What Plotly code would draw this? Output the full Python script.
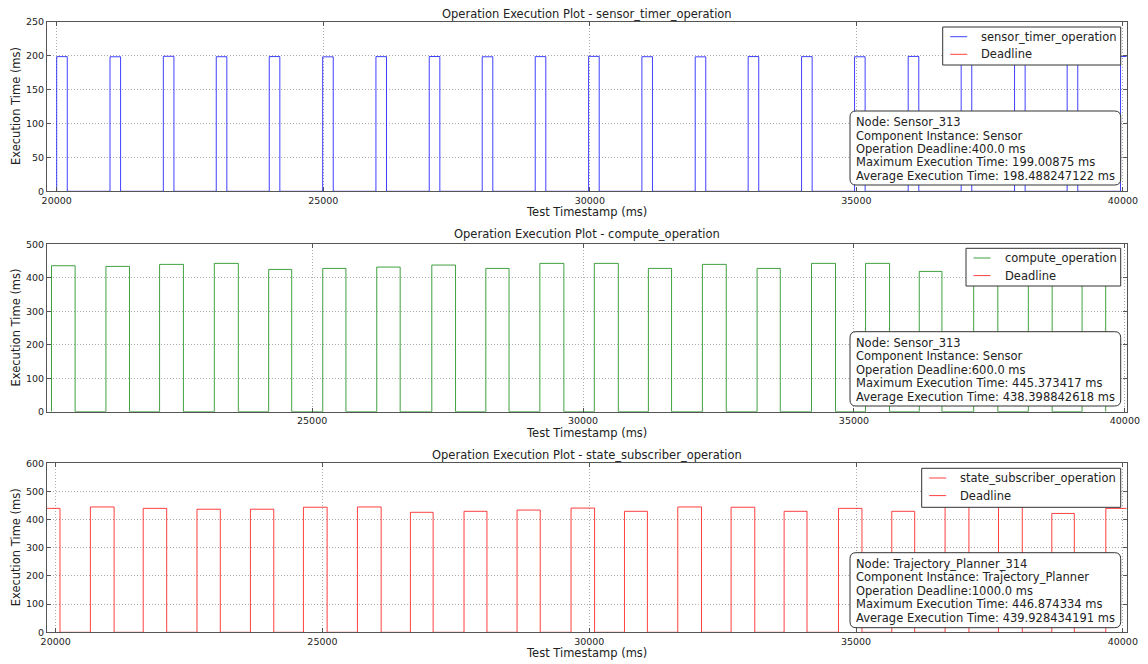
import plotly.graph_objects as go

# ---------------- data ----------------
sensor_timer_start = [20000, 21000, 22000, 22993, 23987, 24989, 25988, 26988, 27982, 28976,
                      29977, 30977, 31977, 32970, 33972, 34966, 35972, 36966, 37967, 38954, 39955]
sensor_timer_exec = [198.5, 198.3, 199.0, 198.4, 198.6, 198.2, 198.5, 198.7, 198.3, 198.5,
                     198.9, 198.4, 198.2, 198.6, 198.5, 198.3, 198.8, 198.4, 198.6, 198.5, 198.7]

compute_start = [20190, 21195, 22185, 23195, 24198, 25196, 26193, 27209, 28206, 29203,
                 30208, 31206, 32203, 33212, 34217, 35214, 36205, 37210, 38218, 39210]
compute_exec = [436, 434, 440, 443, 425, 428, 432, 438, 428, 443,
                443, 428, 440, 428, 443, 443, 419, 445.4, 440, 436]

state_sub_start = [19640, 20650, 21640, 22648, 23650, 24643, 25655, 26648, 27653, 28647,
                   29659, 30660, 31659, 32658, 33652, 34671, 35670, 36669, 37670, 38669, 39681]
state_sub_exec = [440, 445, 440, 437, 437, 444, 445, 426, 429.5, 434,
                  441, 429.5, 445, 444, 429.5, 440, 429.5, 446.9, 445.5, 422, 440]

operations = ["sensor_timer_operation", "compute_operation", "state_subscriber_operation"]
deadlines = [400.0, 600.0, 1000.0]
info_lines = [
    ["Node: Sensor_313", "Component Instance: Sensor", "Operation Deadline:400.0 ms",
     "Maximum Execution Time: 199.00875 ms", "Average Execution Time: 198.488247122 ms"],
    ["Node: Sensor_313", "Component Instance: Sensor", "Operation Deadline:600.0 ms",
     "Maximum Execution Time: 445.373417 ms", "Average Execution Time: 438.398842618 ms"],
    ["Node: Trajectory_Planner_314", "Component Instance: Trajectory_Planner",
     "Operation Deadline:1000.0 ms", "Maximum Execution Time: 446.874334 ms",
     "Average Execution Time: 439.928434191 ms"],
]
x_ranges = [[19818, 40067], [20107, 40030], [19837, 40069]]
y_ranges = [[0, 250], [0, 500], [0, 600]]
y_dticks = [50, 100, 100]

series = [(sensor_timer_start, sensor_timer_exec),
          (compute_start, compute_exec),
          (state_sub_start, state_sub_exec)]
line_colors = ["rgba(0,0,255,0.75)", "rgba(0,128,0,0.75)", "rgba(255,0,0,0.75)"]
deadline_color = "rgba(255,0,0,0.75)"

# ---------------- layout geometry (window pixels) ----------------
OFF = 8                      # page body margin
W, H = 1148 - OFF, 664 - OFF  # figure size so that it fills the window
def px(x):
    return (x - OFF) / W
def py(y):
    return 1 - (y - OFF) / H

plot_left, plot_right = 47, 1126.5
panel_tb = [(21.7, 191.3), (244.3, 411.7), (463.3, 632.3)]
title_y = [13.5, 234, 455]
xtitle_y = [212, 432.5, 653]
# legend boxes: left, top, right, bottom
legend_box = [(942.7, 27, 1120.7, 65), (966, 248.3, 1120.7, 286), (921.7, 468.3, 1120.7, 507.3)]
info_box = [(850, 111, 1120.7, 185), (850, 331.7, 1120.7, 406), (850, 552.7, 1120.7, 627.7)]

FONT = "DejaVu Sans"
TXT = 11.5
TICK = 9.5

fig = go.Figure()
layout = dict(
    width=W, height=H, margin=dict(l=0, r=0, t=0, b=0, autoexpand=False),
    paper_bgcolor="white", plot_bgcolor="white",
    font=dict(family=FONT, size=TXT, color="#222"),
    showlegend=False,
)
annotations = []
shapes = []

def rounded_rect(x0, y0, x1, y1, r):
    return (
        f"M {px(x0 + r)},{py(y0)} L {px(x1 - r)},{py(y0)} "
        f"Q {px(x1)},{py(y0)} {px(x1)},{py(y0 + r)} "
        f"L {px(x1)},{py(y1 - r)} Q {px(x1)},{py(y1)} {px(x1 - r)},{py(y1)} "
        f"L {px(x0 + r)},{py(y1)} Q {px(x0)},{py(y1)} {px(x0)},{py(y1 - r)} "
        f"L {px(x0)},{py(y0 + r)} Q {px(x0)},{py(y0)} {px(x0 + r)},{py(y0)} Z"
    )

for i in range(3):
    sfx = "" if i == 0 else str(i + 1)
    starts, execs = series[i]
    xs, ys = [starts[0]], [0]
    for t, v in zip(starts, execs):
        xs += [t, t + v]
        ys += [v, 0]
    fig.add_trace(go.Scatter(
        x=xs, y=ys, mode="lines", line=dict(color=line_colors[i], width=1, shape="hv"),
        name=operations[i], xaxis="x" + sfx, yaxis="y" + sfx, hoverinfo="skip"))
    fig.add_trace(go.Scatter(
        x=x_ranges[i], y=[deadlines[i], deadlines[i]], mode="lines",
        line=dict(color=deadline_color, width=1),
        name="Deadline", xaxis="x" + sfx, yaxis="y" + sfx, hoverinfo="skip"))

    top, bot = panel_tb[i]
    axis_common = dict(
        automargin=False,
        showline=True, linecolor="#555", linewidth=1, mirror="ticks",
        ticks="inside", ticklen=4, tickcolor="#555", tickwidth=1,
        showgrid=True, gridcolor="#ababab", griddash="1px,2px", gridwidth=1,
        zeroline=False, tickfont=dict(family=FONT, size=TICK, color="#222"),
    )
    layout["xaxis" + sfx] = dict(
        axis_common, domain=[px(plot_left), px(plot_right)], range=x_ranges[i],
        anchor="y" + sfx, tickmode="linear", tick0=0, dtick=5000, tickformat="d")
    layout["yaxis" + sfx] = dict(
        axis_common, domain=[py(bot), py(top)], range=y_ranges[i],
        anchor="x" + sfx, tickmode="linear", tick0=0, dtick=y_dticks[i])

    # subplot title
    annotations.append(dict(
        text="Operation Execution Plot - " + operations[i], xref="paper", yref="paper",
        x=px((plot_left + plot_right) / 2), y=py(title_y[i]), xanchor="center", yanchor="middle",
        showarrow=False, font=dict(family=FONT, size=TXT, color="#222")))
    # x-axis title
    annotations.append(dict(
        text="Test Timestamp (ms)", xref="paper", yref="paper",
        x=px((plot_left + plot_right) / 2), y=py(xtitle_y[i]), xanchor="center", yanchor="middle",
        showarrow=False, font=dict(family=FONT, size=TXT, color="#222")))
    # y-axis title
    annotations.append(dict(
        text="Execution Time (ms)", xref="paper", yref="paper",
        x=px(15.5), y=py((top + bot) / 2), xanchor="center", yanchor="middle",
        textangle=-90, showarrow=False, font=dict(family=FONT, size=TXT, color="#222")))

    # legend (box, line samples, labels)
    lx0, ly0, lx1, ly1 = legend_box[i]
    shapes.append(dict(type="rect", xref="paper", yref="paper",
                       x0=px(lx0), x1=px(lx1), y0=py(ly1), y1=py(ly0),
                       fillcolor="white", line=dict(color="#333", width=1), layer="above"))
    for k, (name, col) in enumerate([(operations[i], line_colors[i]), ("Deadline", deadline_color)]):
        yy = ly0 + 9.7 + 17.6 * k
        shapes.append(dict(type="line", xref="paper", yref="paper",
                           x0=px(lx0 + 7.5), x1=px(lx0 + 24.5), y0=py(yy), y1=py(yy),
                           line=dict(color=col, width=1), layer="above"))
        annotations.append(dict(
            text=name, xref="paper", yref="paper",
            x=px(lx0 + 36.5), y=py(yy), xanchor="left", yanchor="middle",
            showarrow=False, font=dict(family=FONT, size=TXT, color="#222")))

    # info box with rounded corners
    x0, y0, x1, y1 = info_box[i]
    shapes.append(dict(type="path", path=rounded_rect(x0, y0, x1, y1, 6),
                       xref="paper", yref="paper",
                       fillcolor="white", line=dict(color="#333", width=1), layer="above"))
    for k, line in enumerate(info_lines[i]):
        annotations.append(dict(
            text=line, xref="paper", yref="paper",
            x=px(x0 + 4), y=py(y0 + 11.3 + 13.4 * k), xanchor="left", yanchor="middle",
            showarrow=False, font=dict(family=FONT, size=TXT, color="#222")))

layout["annotations"] = annotations
layout["shapes"] = shapes
fig.update_layout(**layout)
fig.write_html("out.html")
